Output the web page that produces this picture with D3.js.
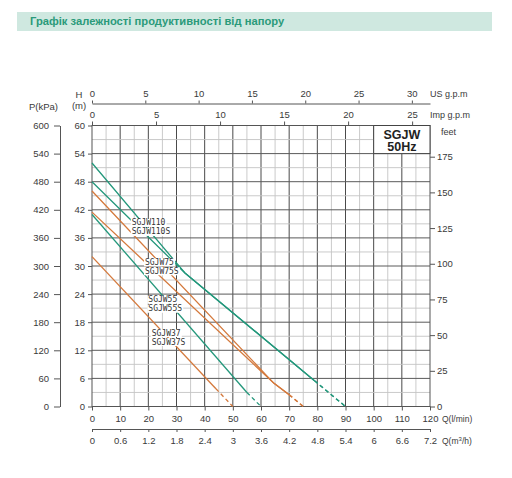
<!DOCTYPE html>
<html><head><meta charset="utf-8">
<script src="https://cdn.jsdelivr.net/npm/d3@7"></script>
<style>
body{margin:0;background:#fff}
svg{display:block}
text{font-family:"Liberation Sans",Arial,sans-serif;fill:#3a3a3a}
</style>
</head><body>
<svg id="chart" width="512" height="478"></svg>
<script>
// ---------- data ----------
const titleText = "Графік залежності продуктивності від напору";
const flowTicks = [0,10,20,30,40,50,60,70,80,90,100,110,120];          // Q (l/min)
const m3hTicks = [0,0.6,1.2,1.8,2.4,3,3.6,4.2,4.8,5.4,6,6.6,7.2];       // Q (m3/h)
const usTicks = [0,5,10,15,20,25,30];                                   // US g.p.m
const impTicks = [0,5,10,15,20,25];                                     // Imp g.p.m
const headTicks = [0,6,12,18,24,30,36,42,48,54,60];                     // H (m)
const kpaTicks = [0,60,120,180,240,300,360,420,480,540,600];            // P (kPa)
const feetTicks = [0,25,50,75,100,125,150,175];                         // feet

const curveNames = ["SGJW110-1","SGJW110-2","SGJW75-1","SGJW75-2","SGJW55","SGJW37"];
const curveFlow = [
  [0,33,79,90],
  [0,33,79,90],
  [0,64.5,70,75],
  [0,64.5,70,75],
  [0,55,60],
  [0,44,50]
];
const curveHead = [
  [52,28.5,5.5,0],
  [48,28.5,5.5,0],
  [46,5,2.5,0],
  [41.5,5,2.5,0],
  [41,3,0],
  [32,3.8,0]
];
const labelTexts = [["SGJW110","SGJW110S"],["SGJW75","SGJW75S"],["SGJW55","SGJW55S"],["SGJW37","SGJW37S"]];
const modelBoxText = ["SGJW","50Hz"];

// ---------- styles / layout ----------
const GREEN = "#23977b", ORANGE = "#d4793c";
const curveColor = {"SGJW110-1":GREEN,"SGJW110-2":GREEN,"SGJW75-1":ORANGE,"SGJW75-2":ORANGE,"SGJW55":GREEN,"SGJW37":ORANGE};
const labelAnchor = [[14.1,39.3],[18.8,30.9],[20.0,22.9],[21.2,15.8]]; // data coords (Q, H)

const svg = d3.select("#chart");
const L = 92, R = 430, T = 125.5, B = 406.5;
const x = d3.scaleLinear().domain([0,120]).range([L,R]);
const y = d3.scaleLinear().domain([0,60]).range([B,T]);
const yP = d3.scaleLinear().domain([0,600]).range([B,T]);
const yFt = d3.scaleLinear().domain([0,60/0.3048]).range([B,T]);
const xUS = d3.scaleLinear().domain([0,120/3.78541]).range([L,R]);
const xImp = d3.scaleLinear().domain([0,120/4.54609]).range([L,R]);
const xM3 = d3.scaleLinear().domain([0,7.2]).range([L,R]);

// title bar
svg.append("rect").attr("x",17).attr("y",12).attr("width",475).attr("height",19).attr("fill","#cfe8e0");
svg.append("text").attr("x",30).attr("y",25).attr("font-size",11.2).attr("font-weight","bold")
  .style("fill","#2a9a7a").text(titleText);

// grid
const g = svg.append("g");
d3.range(5,120,5).forEach(v=>{
  const major = v%10===0;
  g.append("line").attr("x1",x(v)).attr("x2",x(v)).attr("y1",T).attr("y2",B)
    .attr("stroke",major?"#4a4a4a":"#c4c4c4").attr("stroke-width",major?1:0.9);
});
d3.range(3,60,3).forEach(v=>{
  const major = v%6===0;
  g.append("line").attr("x1",L).attr("x2",R).attr("y1",y(v)).attr("y2",y(v))
    .attr("stroke",major?"#5a5a5a":"#c4c4c4").attr("stroke-width",major?1:0.9);
});
g.append("rect").attr("x",L).attr("y",T).attr("width",R-L).attr("height",B-T)
  .attr("fill","none").attr("stroke","#555").attr("stroke-width",1);

// model box
svg.append("rect").attr("x",x(100)).attr("y",y(60)).attr("width",x(120)-x(100)).attr("height",y(54)-y(60))
  .attr("fill","#fff").attr("stroke","#444").attr("stroke-width",1);
modelBoxText.forEach((t,i)=>{
  svg.append("text").attr("x",(x(100)+x(120))/2).attr("y",y(60)+13+i*12.5)
    .attr("text-anchor","middle").attr("font-size",12.5).attr("font-weight","bold").style("fill","#222").text(t);
});

// curves
const line = d3.line().x(d=>x(d[0])).y(d=>y(d[1]));
curveNames.forEach((name,i)=>{
  const pts = curveFlow[i].map((q,j)=>[q,curveHead[i][j]]);
  const solid = pts.slice(0,pts.length-1);
  const dashed = pts.slice(pts.length-2);
  svg.append("path").attr("d",line(solid)).attr("fill","none").attr("stroke",curveColor[name]).attr("stroke-width",1.3);
  svg.append("path").attr("d",line(dashed)).attr("fill","none").attr("stroke",curveColor[name]).attr("stroke-width",1.3)
    .attr("stroke-dasharray","4,3");
});

// curve labels
labelTexts.forEach((pair,i)=>{
  const [q,h] = labelAnchor[i];
  const gx = svg.append("g").attr("transform",`translate(${x(q)},${y(h)})`);
  pair.forEach((t,j)=>{
    const tx = gx.append("text").attr("x",0).attr("y",j*9+3).attr("font-size",8)
      .style("font-family","'DejaVu Sans Mono',monospace").style("fill","#333").text(t);
    const bb = tx.node().getBBox();
    gx.insert("rect","text").attr("x",bb.x-1).attr("y",bb.y+0.5).attr("width",bb.width+2).attr("height",bb.height-1).attr("fill","#fff");
  });
});

// axes
function style(sel, fs){
  sel.selectAll("text").attr("font-size",fs).style("fill","#3a3a3a");
  sel.selectAll("line").attr("stroke","#555");
  sel.selectAll("path").attr("stroke","#555");
  sel.attr("font-family",null);
}
const ax1 = svg.append("g").attr("transform",`translate(0,${B})`)
  .call(d3.axisBottom(x).tickValues(flowTicks).tickSize(4).tickPadding(5).tickFormat(d3.format("d")));
ax1.select(".domain").remove(); style(ax1,9.5);

const ax2 = svg.append("g").attr("transform",`translate(0,429)`)
  .call(d3.axisBottom(xM3).tickValues(m3hTicks).tickSize(3).tickSizeOuter(3).tickPadding(5).tickFormat(d=>String(+d.toFixed(1))));
style(ax2,9.5);

const ax3 = svg.append("g").attr("transform",`translate(0,103.5)`)
  .call(d3.axisTop(xUS).tickValues(usTicks).tickSize(3).tickSizeOuter(0).tickPadding(4).tickFormat(d3.format("d")));
style(ax3,9.5);

const ax4 = svg.append("g").attr("transform",`translate(0,${T})`)
  .call(d3.axisTop(xImp).tickValues(impTicks).tickSize(4).tickPadding(4).tickFormat(d3.format("d")));
ax4.select(".domain").remove(); style(ax4,9.5);

const ax5 = svg.append("g").attr("transform",`translate(${L},0)`)
  .call(d3.axisLeft(y).tickValues(headTicks).tickSize(4).tickPadding(3).tickFormat(d3.format("d")));
ax5.select(".domain").remove(); style(ax5,9.5);

const ax6 = svg.append("g").attr("transform",`translate(60,0)`)
  .call(d3.axisLeft(yP).tickValues(kpaTicks).tickSize(6).tickSizeOuter(0).tickPadding(5).tickFormat(d3.format("d")));
style(ax6,9.5);

const ax7 = svg.append("g").attr("transform",`translate(${R},0)`)
  .call(d3.axisRight(yFt).tickValues(feetTicks).tickSize(5).tickPadding(2).tickFormat(d3.format("d")));
ax7.select(".domain").remove(); style(ax7,9.5);

// axis titles
const at = (t,xx,yy,anchor,fs)=>svg.append("text").attr("x",xx).attr("y",yy).attr("text-anchor",anchor||"start").attr("font-size",fs||9).text(t);
at("US g.p.m",430,96.5,"start",9);
at("Imp g.p.m",430,117.5,"start",9);
at("feet",441,135,"start",9);
at("H",79,98,"middle",9.5);
at("(m)",79,109,"middle",9.5);
at("P(kPa)",29,109.5,"start",9.5);
at("Q(l/min)",442,422,"start",8.5);
const qm = svg.append("text").attr("x",442).attr("y",444).attr("font-size",8.5);
qm.append("tspan").text("Q(m");
qm.append("tspan").attr("font-size",6).attr("dy",-3).text("3");
qm.append("tspan").attr("dy",3).text("/h)");
</script>
</body></html>
